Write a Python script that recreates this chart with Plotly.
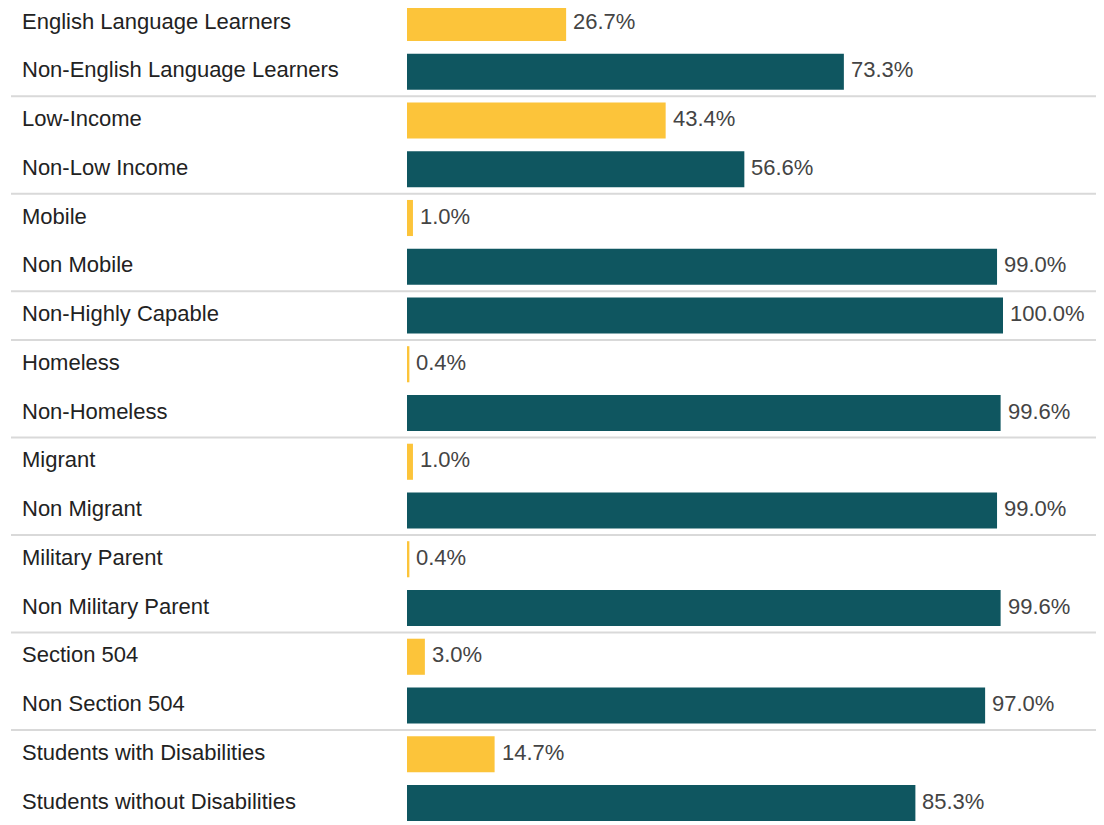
import plotly.graph_objects as go

categories = [
    "English Language Learners", "Non-English Language Learners",
    "Low-Income", "Non-Low Income",
    "Mobile", "Non Mobile",
    "Non-Highly Capable",
    "Homeless", "Non-Homeless",
    "Migrant", "Non Migrant",
    "Military Parent", "Non Military Parent",
    "Section 504", "Non Section 504",
    "Students with Disabilities", "Students without Disabilities",
]
values = [26.7, 73.3, 43.4, 56.6, 1.0, 99.0, 100.0, 0.4, 99.6, 1.0, 99.0, 0.4, 99.6, 3.0, 97.0, 14.7, 85.3]
is_focus = [True, False, True, False, True, False, False, True, False, True, False, True, False, True, False, True, False]
group_breaks = [1.5, 3.5, 5.5, 6.5, 8.5, 10.5, 12.5, 14.5]

YELLOW = "#FCC43A"
TEAL = "#0F5660"
FONT = "Liberation Sans, Arial, sans-serif"

OFF = 8  # page body margin
W, H = 1104 - OFF, 825 - OFF
left_px = 407 - OFF
px_per_unit = 5.96
plot_w = W - left_px
row_px = 48.75
top_center = 23 - OFF

idx = list(range(len(categories)))
colors = [YELLOW if f else TEAL for f in is_focus]

fig = go.Figure()
fig.add_trace(go.Bar(
    x=values, y=idx, orientation="h",
    marker=dict(color=colors, line=dict(width=0)),
    width=0.74,
    cliponaxis=False,
    hoverinfo="skip",
))

for i, v in enumerate(values):
    fig.add_annotation(
        x=v, xref="x", xanchor="left", xshift=5,
        y=i, yref="y", yanchor="middle", yshift=2,
        text=f"{v:.1f}%", showarrow=False,
        font=dict(family=FONT, size=22, color="#444444"),
    )

for i, c in enumerate(categories):
    fig.add_annotation(
        x=(20 - OFF - left_px) / plot_w, xref="paper", xanchor="left",
        y=i, yref="y", yanchor="middle", yshift=2,
        text=c, showarrow=False,
        font=dict(family=FONT, size=22, color="#222222"),
    )

for b in group_breaks:
    fig.add_shape(type="line", xref="paper", yref="y",
                  x0=(11 - OFF - left_px) / plot_w, x1=(1100 - OFF - left_px) / plot_w,
                  y0=b, y1=b, line=dict(color="#D9D9D9", width=2), layer="below")

y_top = 0 - top_center / row_px
y_bot = (len(categories) - 1) + (H - (top_center + (len(categories) - 1) * row_px)) / row_px

fig.update_layout(
    width=W, height=H,
    margin=dict(l=left_px, r=0, t=0, b=0),
    paper_bgcolor="white", plot_bgcolor="white",
    showlegend=False,
    xaxis=dict(range=[0, plot_w / px_per_unit], visible=False, fixedrange=True),
    yaxis=dict(range=[y_bot, y_top], visible=False, fixedrange=True),
)

fig.write_html("out.html")
